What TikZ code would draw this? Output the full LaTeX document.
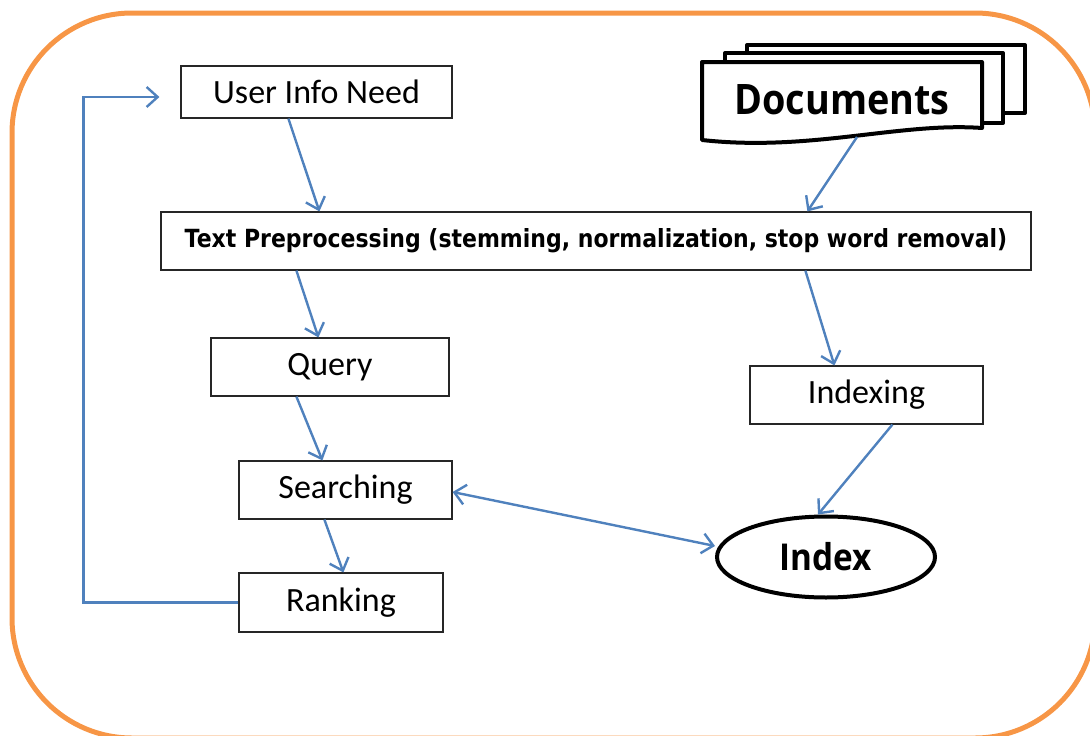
\documentclass[tikz,border=0pt]{standalone}
\usepackage{fontspec}
\setmainfont{Carlito}
\newfontfamily\headfont{Open Sans}[FakeStretch=0.9]
\newfontfamily\stepfont{DejaVu Sans}[FakeStretch=0.88]
\usetikzlibrary{arrows.meta,shapes.geometric,calc}
\definecolor{frameorange}{HTML}{F79646}
\definecolor{flowblue}{HTML}{4F81BD}
\tikzset{
  stagebox/.style={draw=black!85, line width=1.2pt, rectangle, inner sep=0pt, fill=white,
    font=\fontsize{34}{40}\selectfont},
  flow/.style={draw=flowblue, line width=2.4pt, -{Straight Barb[length=11pt,width=20pt]}},
  biflow/.style={draw=flowblue, line width=2.4pt, {Straight Barb[length=11pt,width=20pt]}-{Straight Barb[length=11pt,width=20pt]}},
  page/.style={draw=black, line width=4pt, line join=round, fill=white},
}
\begin{document}
\begin{tikzpicture}[x=1pt,y=-1pt]
\useasboundingbox (0,0) rectangle (1090,736);
\clip (0,0) rectangle (1090,736);

% outer frame
\draw[frameorange, line width=5pt, rounded corners=120pt] (12,13) rectangle (1095,738);

% stack of documents
\draw[page] (747,45) rectangle (1025,113);
\draw[page] (725,53) rectangle (1003,123);
\draw[page] (702,62) -- (982,62) -- (982,128) .. controls (900,122) and (810,152) .. (702,140) -- cycle;
\node (docs) at (842,100) {\headfont\bfseries\fontsize{42}{48}\selectfont Documents};
\coordinate (docbot) at (857,137);

% process boxes
\node[stagebox, minimum width=271pt, minimum height=52pt] (uin) at (316.5,92) {User Info Need};
\node[stagebox, minimum width=870pt, minimum height=58pt] (tp) at (596,241)
  {\stepfont\bfseries\fontsize{25}{29}\selectfont Text Preprocessing (stemming, normalization, stop word removal)};
\node[stagebox, minimum width=238pt, minimum height=58pt] (query) at (330,367) {Query};
\node[stagebox, minimum width=213pt, minimum height=58pt] (search) at (345.5,490) {Searching};
\node[stagebox, minimum width=204pt, minimum height=59pt] (rank) at (341,602.5) {Ranking};
\node[stagebox, minimum width=233pt, minimum height=58pt] (indexing) at (866.5,395) {Indexing};
\node[ellipse, draw=black, line width=4pt, fill=white, inner sep=0pt,
      minimum width=218pt, minimum height=81pt] (index) at (826,557)
  {\headfont\bfseries\fontsize{37}{42}\selectfont Index};

% connectors
\draw[flow] ([xshift=108pt]uin.south west) -- ([xshift=159pt]tp.north west);
\draw[flow] (docbot) -- ([xshift=647pt]tp.north west);
\draw[flow] ([xshift=136pt]tp.south west) -- ([xshift=108pt]query.north west);
\draw[flow] ([xshift=645pt]tp.south west) -- ([xshift=85pt]indexing.north west);
\draw[flow] ([xshift=86pt]query.south west) -- ([xshift=84pt]search.north west);
\draw[flow] ([xshift=86pt]search.south west) -- ([xshift=105pt]rank.north west);
\draw[flow] ([xshift=143pt]indexing.south west) -- ([xshift=-8pt]index.north);
\draw[biflow] ([yshift=-2pt]search.east) -- ([yshift=11pt]index.west);
\draw[flow] (rank.west) -- ++(-155,0) |- ([xshift=-21pt,yshift=-5pt]uin.west);
\end{tikzpicture}
\end{document}
